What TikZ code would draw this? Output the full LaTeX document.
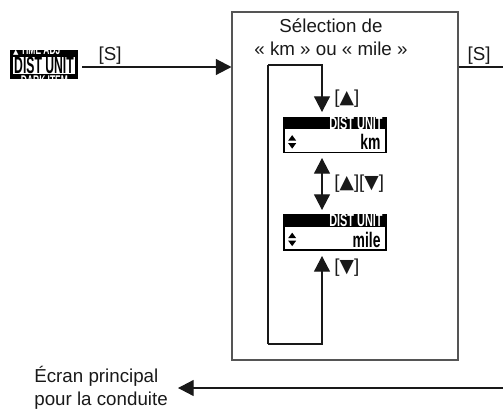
\documentclass[tikz,border=0pt]{standalone}
\usepackage{fontspec}
\setmainfont{Liberation Sans}
\newfontfamily\symfont{DejaVu Sans}
\usetikzlibrary{arrows.meta,positioning,calc}
\definecolor{frameg}{RGB}{85,85,85}
\definecolor{inkk}{RGB}{25,25,25}
\tikzset{
  flow/.style={line width=1pt, inkk, -{Triangle[length=4.7mm,width=4.8mm]}},
  twoway/.style={line width=1pt, inkk, {Triangle[length=4.7mm,width=4.8mm]}-{Triangle[length=4.7mm,width=4.8mm]}},
  plain/.style={line width=1pt, inkk},
  lcd/.style={draw=black, line width=1.4pt, minimum width=3.06cm, minimum height=1.04cm, inner sep=0pt},
  keylbl/.style={inner sep=1pt, text=inkk},
  hdrtext/.style={white, inner sep=0pt, font=\fontsize{15}{15}\selectfont\bfseries},
  valtext/.style={black, inner sep=0pt, font=\fontsize{18}{18}\selectfont\bfseries},
}
\newcommand{\up}{{\symfont\char"25B2}}
\newcommand{\dn}{{\symfont\char"25BC}}

\begin{document}
\begin{tikzpicture}[x=0.03cm, y=-0.03cm, font=\fontsize{16}{19.5}\selectfont]
  \useasboundingbox (0,0) rectangle (503,417);
  % Menu item in the list
  \node[fill=black, minimum width=2.04cm, minimum height=0.87cm, inner sep=0pt] (menuicon) at (44,64.5) {};
  \fill[white] (13,57) rectangle (75,74);
  \node[inner sep=0pt, font=\fontsize{20}{20}\selectfont\bfseries] at (44,65.5) {\scalebox{0.52}[1]{DIST UNIT}};
  \begin{scope}
    \clip (10,50) rectangle (78,56);
    \node[white, anchor=west, inner sep=0pt, font=\fontsize{12}{12}\selectfont\bfseries] at (13,50) {{\fontsize{6}{6}\symfont\char"25B2}\,\scalebox{0.6}[1]{TIME ADJ}};
  \end{scope}
  \begin{scope}
    \clip (10,75) rectangle (78,79);
    \node[white, anchor=west, inner sep=0pt, font=\fontsize{12}{12}\selectfont\bfseries] at (13,81) {{\fontsize{6}{6}\symfont\char"25BC}\,\scalebox{0.6}[1]{DARK ITEM}};
  \end{scope}
  % Selection frame
  \node[draw=frameg, line width=0.9pt, minimum width=6.78cm, minimum height=10.44cm, inner sep=0pt] (selbox) at (345,186) {};
  \node[align=center, inner sep=0pt, text=inkk] (seltitle) at (331,37) {Sélection de\\« km » ou « mile »};
  % Entry and exit with [S]
  \coordinate (sin) at (82,67);
  \draw[flow] (sin) -- (sin -| selbox.west);
  \node[keylbl] (skeyin) at (110,56) {[S]};
  \coordinate (sout) at (503,67);
  \draw[plain] (sout -| selbox.east) -- (sout);
  \node[keylbl] (skeyout) at (479,56) {[S]};
  % Screens
  \foreach \nm/\yy/\val in {kmscr/135/km, milescr/232.5/mile}{
    \node[lcd] (\nm) at (335,\yy) {};
    \fill (\nm.north west) rectangle ($(\nm.north east)+(0,12.5)$);
    \node[hdrtext, anchor=east] at ($(\nm.north east)+(-4,6.5)$) {\scalebox{0.62}[1]{DIST UNIT}};
    \node[valtext, anchor=east] at ($(\nm.south east)+(-6,-11)$) {\scalebox{0.66}[1]{\val}};
    \fill ($(\nm.south west)+(5,-12.5)$) -- ++(8,0) -- ++(-4,-5.5) -- cycle;
    \fill ($(\nm.south west)+(5,-10)$) -- ++(8,0) -- ++(-4,5.5) -- cycle;
  }
  % Loop of the selection
  \coordinate (looptop) at (268,65);
  \coordinate (loopbot) at (268,344);
  \coordinate (kmin) at (322,112);
  \coordinate (kmout) at (322,158);
  \coordinate (mileup) at (322,210);
  \coordinate (milein) at (322,256);
  \draw[plain] (looptop) -- (loopbot);
  \draw[flow] (looptop) -| (kmin);
  \draw[twoway] (kmout) -- (mileup);
  \draw[flow] (loopbot) -| (milein);
  \node[keylbl, anchor=west] (upkey) at (333,99) {[\up]};
  \node[keylbl, anchor=west] (bothkey) at (333,184) {[\up][\dn]};
  \node[keylbl, anchor=west] (dnkey) at (333,268) {[\dn]};
  % Back to the main screen
  \node[align=left, anchor=east, inner sep=0pt, text=inkk] (mainscr) at (168,388) {Écran principal\\pour la conduite};
  \coordinate (back) at (503,388);
  \draw[flow] (back) -- ($(mainscr.east)+(10,0)$);
\end{tikzpicture}
\end{document}
